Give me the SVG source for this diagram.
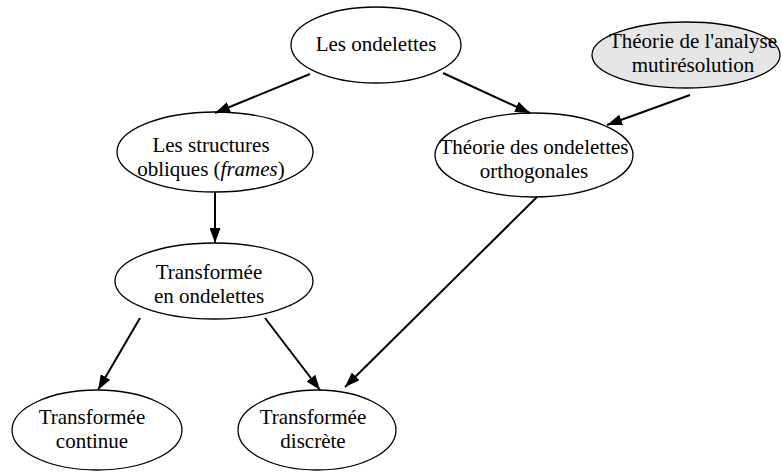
<svg xmlns="http://www.w3.org/2000/svg" width="782" height="472" viewBox="0 0 782 472">
<style>
.n ellipse{fill:#fff;stroke:#000;stroke-width:1.3}
.n.g ellipse{fill:#e6e6e6}
text{font-family:"Liberation Serif","Times New Roman",serif;font-size:21px;fill:#000;text-anchor:middle}
.c line{stroke:#000;stroke-width:2}
</style>
<defs>
<marker id="a" viewBox="0 0 15 11" refX="15" refY="5.5" markerWidth="15" markerHeight="11" markerUnits="userSpaceOnUse" orient="auto">
<path d="M0,0 L15,5.5 L0,11 z" fill="#000"/>
</marker>
</defs>
<rect width="782" height="472" fill="#fff"/>
<g id="n1" class="n"><ellipse cx="376" cy="45" rx="85" ry="38"/><text x="376" y="51">Les ondelettes</text></g>
<g id="n2" class="n g"><ellipse cx="686" cy="55" rx="94" ry="33"/><text x="693" y="48">Théorie de l'analyse</text><text x="693" y="72">mutirésolution</text></g>
<g id="n3" class="n"><ellipse cx="215" cy="152" rx="98" ry="40"/><text x="211" y="152">Les structures</text><text x="211" y="176">obliques (<tspan font-style="italic">frames</tspan>)</text></g>
<g id="n4" class="n"><ellipse cx="534" cy="155" rx="99" ry="42"/><text x="534" y="154">Théorie des ondelettes</text><text x="534" y="178">orthogonales</text></g>
<g id="n5" class="n"><ellipse cx="214" cy="281" rx="99" ry="38"/><text x="209" y="279">Transformée</text><text x="209" y="303">en ondelettes</text></g>
<g id="n6" class="n"><ellipse cx="97" cy="430" rx="85" ry="40"/><text x="92" y="424">Transformée</text><text x="92" y="448">continue</text></g>
<g id="n7" class="n"><ellipse cx="317" cy="430" rx="79" ry="40"/><text x="313" y="424">Transformée</text><text x="313" y="448">discrète</text></g>
<g id="edges" class="c">
<line x1="310" y1="74" x2="215" y2="113" marker-end="url(#a)"/>
<line x1="443" y1="73" x2="530" y2="113" marker-end="url(#a)"/>
<line x1="690" y1="95" x2="607" y2="125" marker-end="url(#a)"/>
<line x1="215" y1="192" x2="215" y2="243" marker-end="url(#a)"/>
<line x1="140" y1="318" x2="98" y2="390" marker-end="url(#a)"/>
<line x1="265" y1="318" x2="320" y2="390" marker-end="url(#a)"/>
<line x1="537" y1="197" x2="345" y2="387" marker-end="url(#a)"/>
</g>
</svg>
